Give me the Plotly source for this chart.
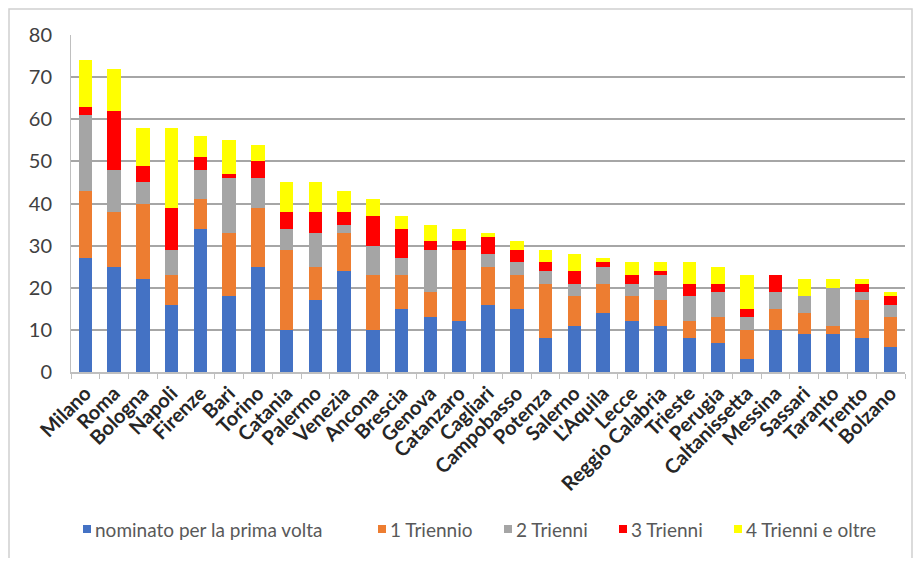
import plotly.graph_objects as go

cities = ["Milano", "Roma", "Bologna", "Napoli", "Firenze", "Bari", "Torino", "Catania",
          "Palermo", "Venezia", "Ancona", "Brescia", "Genova", "Catanzaro", "Cagliari",
          "Campobasso", "Potenza", "Salerno", "L'Aquila", "Lecce", "Reggio Calabria",
          "Trieste", "Perugia", "Caltanissetta", "Messina", "Sassari", "Taranto", "Trento", "Bolzano"]

prima_volta = [27, 25, 22, 16, 34, 18, 25, 10, 17, 24, 10, 15, 13, 12, 16, 15, 8, 11, 14, 12, 11, 8, 7, 3, 10, 9, 9, 8, 6]
triennio_1 = [16, 13, 18, 7, 7, 15, 14, 19, 8, 9, 13, 8, 6, 17, 9, 8, 13, 7, 7, 6, 6, 4, 6, 7, 5, 5, 2, 9, 7]
trienni_2 = [18, 10, 5, 6, 7, 13, 7, 5, 8, 2, 7, 4, 10, 0, 3, 3, 3, 3, 4, 3, 6, 6, 6, 3, 4, 4, 9, 2, 3]
trienni_3 = [2, 14, 4, 10, 3, 1, 4, 4, 5, 3, 7, 7, 2, 2, 4, 3, 2, 3, 1, 2, 1, 3, 2, 2, 4, 0, 0, 2, 2]
trienni_4 = [11, 10, 9, 19, 5, 8, 4, 7, 7, 5, 4, 3, 4, 3, 1, 2, 3, 4, 1, 3, 2, 5, 4, 8, 0, 4, 2, 1, 1]

series_names = ["nominato per la prima volta", "1 Triennio", "2 Trienni", "3 Trienni", "4 Trienni e oltre"]
series_values = [prima_volta, triennio_1, trienni_2, trienni_3, trienni_4]
colors = ["#4472C4", "#ED7D31", "#A5A5A5", "#FF0000", "#FFFF00"]
y_ticks = [0, 10, 20, 30, 40, 50, 60, 70, 80]

# layout geometry (figure pixels)
W, H = 905, 550
ML, MR, MT, MB = 63, 8, 27, 186
PW, PH = W - ML - MR, H - MT - MB


def px_x(p):  # page x -> paper
    return (p - 8 - ML) / PW


def px_y(p):  # page y -> paper
    return (H - MB - (p - 8)) / PH


fig = go.Figure()
for name, vals, col in zip(series_names, series_values, colors):
    fig.add_trace(go.Bar(x=cities, y=vals, name=name, marker_color=col,
                         marker_line_width=0, showlegend=False))

fig.update_layout(
    barmode="stack",
    bargap=0.53,
    width=W, height=H,
    paper_bgcolor="white", plot_bgcolor="white",
    margin=dict(l=ML, r=MR, t=MT, b=MB),
    font=dict(family="Lato, Open Sans, sans-serif", color="#404040"),
)
fig.update_yaxes(range=[0, 80], tickvals=y_ticks, showgrid=True, gridcolor="#A6A6A6",
                 gridwidth=1.5, showline=True, linecolor="#BFBFBF", linewidth=1,
                 tickfont=dict(size=20, color="#404040"), ticks="", zeroline=False,
                 ticklabelstandoff=14)
fig.update_xaxes(tickangle=-45, tickfont=dict(size=20, color="#262626", family="Lato, sans-serif"),
                 showline=True, linecolor="#BFBFBF", linewidth=1.5, ticks="outside",
                 tickson="boundaries", ticklen=5, tickcolor="#BFBFBF",
                 ticktext=["<b>" + c + "</b>" for c in cities], tickvals=cities)

# chart frame
fig.add_shape(type="rect", xref="paper", yref="paper",
              x0=-(ML - 1) / PW, x1=1 + (MR - 1) / PW, y0=-(MB + 20) / PH, y1=1 + (MT - 1) / PH,
              line=dict(color="#D0D0D0", width=1.5), fillcolor="rgba(0,0,0,0)", layer="below")

# legend (manual, to match spacing)
leg_sym_x = [83, 378, 504, 619, 734]
leg_y = 529
for name, col, sx in zip(series_names, colors, leg_sym_x):
    fig.add_shape(type="rect", xref="paper", yref="paper",
                  x0=px_x(sx), x1=px_x(sx + 8), y0=px_y(leg_y + 4), y1=px_y(leg_y - 4),
                  fillcolor=col, line=dict(width=0))
    fig.add_annotation(xref="paper", yref="paper", x=px_x(sx + 10), y=px_y(leg_y),
                       xanchor="left", yanchor="middle", showarrow=False, text=name,
                       font=dict(size=19, color="#595959", family="Lato, sans-serif"))

fig.write_html("out.html")
